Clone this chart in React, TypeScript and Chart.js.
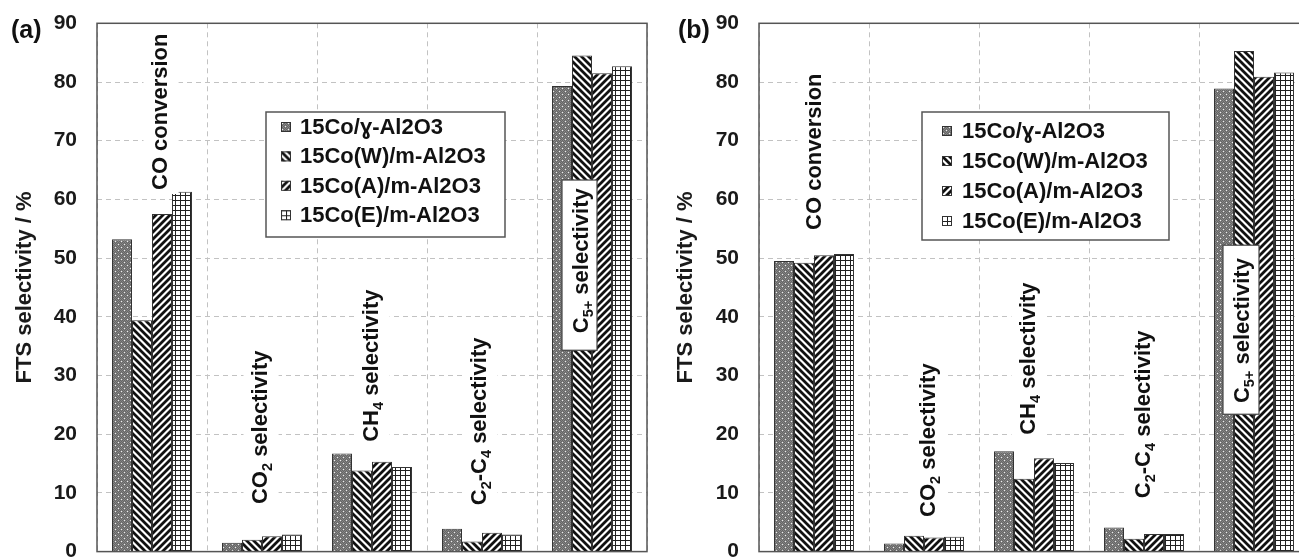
import React, { useEffect, useRef } from 'react';
import { Chart, registerables } from 'chart.js';

Chart.register(...registerables);

// ---------------- data ----------------
const categories = ['CO conversion', 'CO2 selectivity', 'CH4 selectivity', 'C2-C4 selectivity', 'C5+ selectivity'];
const seriesNames = ['15Co/ɣ-Al2O3', '15Co(W)/m-Al2O3', '15Co(A)/m-Al2O3', '15Co(E)/m-Al2O3'];
const yTickMin = 0;
const yTickMax = 90;
const yTickStep = 10;
const yAxisTitle = 'FTS selectivity / %';

// panel (a)
const aGamma = [53.2, 1.5, 16.7, 3.9, 79.3];
const aW = [39.4, 2.0, 13.8, 1.7, 84.5];
const aA = [57.5, 2.6, 15.3, 3.2, 81.5];
const aE = [61.3, 2.9, 14.4, 2.9, 82.7];

// panel (b)
const bGamma = [49.5, 1.4, 17.1, 4.1, 78.9];
const bW = [49.2, 2.7, 12.4, 2.2, 85.3];
const bA = [50.5, 2.4, 15.9, 3.0, 80.9];
const bE = [50.7, 2.55, 15.1, 3.0, 81.6];

// category labels drawn inside the plot (text, subscript?)
type Part = [string, boolean];
const categoryLabelParts: Part[][] = [
  [['CO conversion', false]],
  [['CO', false], ['2', true], [' selectivity', false]],
  [['CH', false], ['4', true], [' selectivity', false]],
  [['C', false], ['2', true], ['-C', false], ['4', true], [' selectivity', false]],
  [['C', false], ['5+', true], [' selectivity', false]],
];

const FONT = "'Liberation Sans', Arial, Helvetica, sans-serif";

// ---------------- layout ----------------
type LabelPos = { dx: number; v: number; box?: { dx0: number; dx1: number; top: number; bottom: number } };
type Panel = {
  letter: string;
  letterX: number;
  canvasLeft: number;
  canvasWidth: number;
  axisWidth: number;
  padRight: number;
  titlePad: number;
  series: number[][];
  legend: { x: number; y: number; w: number; h: number; rowTop: number; rowGap: number; markerX: number; textX: number };
  labels: LabelPos[];
};

const panelA: Panel = {
  letter: '(a)',
  letterX: 11,
  canvasLeft: 0,
  canvasWidth: 660,
  axisWidth: 97,
  padRight: 13,
  titlePad: 12,
  series: [aGamma, aW, aA, aE],
  legend: { x: 266, y: 112, w: 239, h: 125, rowTop: 15, rowGap: 29.4, markerX: 15, textX: 34 },
  labels: [
    { dx: 15, v: 61.6 },
    { dx: 5, v: 8.1 },
    { dx: 6, v: 18.7 },
    { dx: 4, v: 7.9 },
    { dx: -4, v: 37.2, box: { dx0: -30, dx1: 5, top: 63.3, bottom: 34.3 } },
  ],
};

const panelB: Panel = {
  letter: '(b)',
  letterX: 38,
  canvasLeft: 640,
  canvasWidth: 685,
  axisWidth: 119,
  padRight: 16,
  titlePad: 33,
  series: [bGamma, bW, bA, bE],
  legend: { x: 282, y: 112, w: 247, h: 128, rowTop: 19, rowGap: 30, markerX: 20, textX: 40 },
  labels: [
    { dx: 7, v: 54.8 },
    { dx: 11, v: 5.9 },
    { dx: 1, v: 19.9 },
    { dx: 6, v: 9.1 },
    { dx: -5, v: 25.3, box: { dx0: -31, dx1: 5, top: 52.2, bottom: 23.4 } },
  ],
};

// ---------------- patterns ----------------
function makePatterns(ctx: CanvasRenderingContext2D) {
  const mk = (w: number, h: number, draw: (g: CanvasRenderingContext2D) => void) => {
    const c = document.createElement('canvas');
    c.width = w;
    c.height = h;
    const g = c.getContext('2d') as CanvasRenderingContext2D;
    draw(g);
    return ctx.createPattern(c, 'repeat') as CanvasPattern;
  };
  const dots = mk(6, 6, (g) => {
    g.fillStyle = '#848484';
    g.fillRect(0, 0, 6, 6);
    g.fillStyle = '#666666';
    for (let y = 0; y < 6; y++) for (let x = 0; x < 6; x++) if ((x + y) % 2 === 0) g.fillRect(x, y, 1, 1);
    g.fillStyle = '#eeeeee';
    g.fillRect(1, 1, 1, 1);
    g.fillRect(4, 4, 1, 1);
  });
  const stripe = (back: boolean) =>
    mk(7, 7, (g) => {
      const s = 7;
      g.fillStyle = '#ffffff';
      g.fillRect(0, 0, s, s);
      g.strokeStyle = '#111111';
      g.lineWidth = 2.8;
      g.beginPath();
      for (const k of [-1, 0, 1]) {
        if (back) {
          g.moveTo(k * s - 2, -2);
          g.lineTo(k * s + s + 2, s + 2);
        } else {
          g.moveTo(k * s - 2, s + 2);
          g.lineTo(k * s + s + 2, -2);
        }
      }
      g.stroke();
    });
  const grid = mk(5, 5, (g) => {
    g.fillStyle = '#ffffff';
    g.fillRect(0, 0, 5, 5);
    g.fillStyle = '#222222';
    g.fillRect(0, 0, 1, 5);
    g.fillRect(0, 0, 5, 1);
  });
  return [dots, stripe(true), stripe(false), grid];
}

// ---------------- drawing helpers ----------------
function drawRotated(ctx: CanvasRenderingContext2D, parts: Part[], bx: number, by: number, size: number, whiteBg: boolean) {
  const sub = size * 0.66;
  ctx.save();
  ctx.translate(bx, by);
  ctx.rotate(-Math.PI / 2);
  const widths = parts.map(([t, s]) => {
    ctx.font = `bold ${s ? sub : size}px ${FONT}`;
    return ctx.measureText(t).width;
  });
  const total = widths.reduce((a, b) => a + b, 0);
  if (whiteBg) {
    ctx.fillStyle = '#ffffff';
    ctx.fillRect(-4, -size * 0.75 - 7, total + 8, size * 1.05 + 12);
  }
  ctx.fillStyle = '#111111';
  ctx.textBaseline = 'alphabetic';
  ctx.textAlign = 'left';
  let x = 0;
  parts.forEach(([t, s], i) => {
    ctx.font = `bold ${s ? sub : size}px ${FONT}`;
    ctx.fillText(t, x, s ? size * 0.22 : 0);
    x += widths[i];
  });
  ctx.restore();
}

function makeDecorPlugin(p: Panel) {
  return {
    id: 'panelDecor',
    afterDatasetsDraw(chart: any) {
      const ctx: CanvasRenderingContext2D = chart.ctx;
      const xs = chart.scales.x;
      const ys = chart.scales.y;
      // category labels
      p.labels.forEach((lp, i) => {
        const cx = xs.getPixelForValue(i);
        if (lp.box) {
          const x0 = cx + lp.box.dx0;
          const x1 = cx + lp.box.dx1;
          const y0 = ys.getPixelForValue(lp.box.top);
          const y1 = ys.getPixelForValue(lp.box.bottom);
          ctx.save();
          ctx.fillStyle = '#ffffff';
          ctx.fillRect(x0, y0, x1 - x0, y1 - y0);
          ctx.strokeStyle = '#444444';
          ctx.lineWidth = 1.2;
          ctx.strokeRect(x0, y0, x1 - x0, y1 - y0);
          ctx.restore();
        }
        drawRotated(ctx, categoryLabelParts[i], cx + lp.dx, ys.getPixelForValue(lp.v), 22, !lp.box);
      });
      // legend
      const L = p.legend;
      ctx.save();
      ctx.fillStyle = '#ffffff';
      ctx.fillRect(L.x, L.y, L.w, L.h);
      ctx.strokeStyle = '#555555';
      ctx.lineWidth = 1.5;
      ctx.strokeRect(L.x, L.y, L.w, L.h);
      chart.data.datasets.forEach((ds: any, i: number) => {
        const cy = L.y + L.rowTop + i * L.rowGap;
        const mx = L.x + L.markerX;
        const my = cy - 5;
        ctx.save();
        ctx.translate(mx, my);
        ctx.fillStyle = ds.backgroundColor;
        ctx.fillRect(0, 0, 10, 10);
        ctx.strokeStyle = '#333333';
        ctx.lineWidth = 1;
        ctx.strokeRect(0.5, 0.5, 9, 9);
        ctx.restore();
        ctx.fillStyle = '#111111';
        ctx.font = `bold 22px ${FONT}`;
        ctx.textBaseline = 'middle';
        ctx.textAlign = 'left';
        ctx.fillText(ds.label, L.x + L.textX, cy + 1);
      });
      ctx.restore();
    },
    afterDraw(chart: any) {
      const ctx: CanvasRenderingContext2D = chart.ctx;
      const a = chart.chartArea;
      ctx.save();
      ctx.strokeStyle = '#555555';
      ctx.lineWidth = 1.5;
      ctx.strokeRect(a.left, a.top, a.right - a.left, a.bottom - a.top);
      ctx.fillStyle = '#111111';
      ctx.font = `bold 25px ${FONT}`;
      ctx.textBaseline = 'alphabetic';
      ctx.textAlign = 'left';
      ctx.fillText(p.letter, p.letterX, 38);
      ctx.restore();
    },
  };
}

function buildConfig(p: Panel, patterns: CanvasPattern[]): any {
  return {
    type: 'bar',
    data: {
      labels: categories,
      datasets: p.series.map((vals, i) => ({
        label: seriesNames[i],
        data: vals,
        backgroundColor: patterns[i],
        borderColor: '#333333',
        borderWidth: 1,
        barPercentage: 1,
        categoryPercentage: 0.727,
      })),
    },
    options: {
      responsive: false,
      maintainAspectRatio: false,
      animation: false,
      layout: { padding: { left: 0, top: 23.3, right: p.padRight, bottom: 6.4 } },
      plugins: { legend: { display: false }, tooltip: { enabled: false } },
      scales: {
        x: {
          grid: { color: '#c2c2c2', lineWidth: 1, drawTicks: false, offset: true },
          border: { display: false, dash: [5, 4] },
          ticks: { display: false },
        },
        y: {
          min: yTickMin,
          max: yTickMax,
          ticks: {
            stepSize: yTickStep,
            padding: 20,
            color: '#1a1a1a',
            font: { family: FONT, size: 21, weight: 'bold' },
          },
          grid: { color: '#c2c2c2', lineWidth: 1, drawTicks: false },
          border: { display: false, dash: [5, 4] },
          title: {
            display: true,
            text: yAxisTitle,
            color: '#1a1a1a',
            font: { family: FONT, size: 22, weight: 'bold' },
            padding: { top: p.titlePad, bottom: 0 },
          },
          afterFit(s: any) {
            s.width = p.axisWidth;
            s.paddingTop = 0;
            s.paddingBottom = 0;
          },
        },
      },
    },
    plugins: [makeDecorPlugin(p)],
  };
}

export default function App() {
  const refA = useRef<HTMLCanvasElement>(null);
  const refB = useRef<HTMLCanvasElement>(null);

  useEffect(() => {
    const charts: Chart[] = [];
    const pairs: [React.RefObject<HTMLCanvasElement>, Panel][] = [
      [refA, panelA],
      [refB, panelB],
    ];
    pairs.forEach(([ref, p]) => {
      const cv = ref.current;
      if (!cv) return;
      const ctx = cv.getContext('2d') as CanvasRenderingContext2D;
      charts.push(new Chart(cv, buildConfig(p, makePatterns(ctx))));
    });
    return () => charts.forEach((c) => c.destroy());
  }, []);

  return (
    <div style={{ position: 'fixed', left: 0, top: 0, width: 1299, height: 558, overflow: 'hidden', background: '#ffffff' }}>
      <canvas
        ref={refA}
        width={panelA.canvasWidth}
        height={558}
        style={{ position: 'absolute', left: panelA.canvasLeft, top: 0, width: panelA.canvasWidth, height: 558 }}
      />
      <canvas
        ref={refB}
        width={panelB.canvasWidth}
        height={558}
        style={{ position: 'absolute', left: panelB.canvasLeft, top: 0, width: panelB.canvasWidth, height: 558 }}
      />
    </div>
  );
}
